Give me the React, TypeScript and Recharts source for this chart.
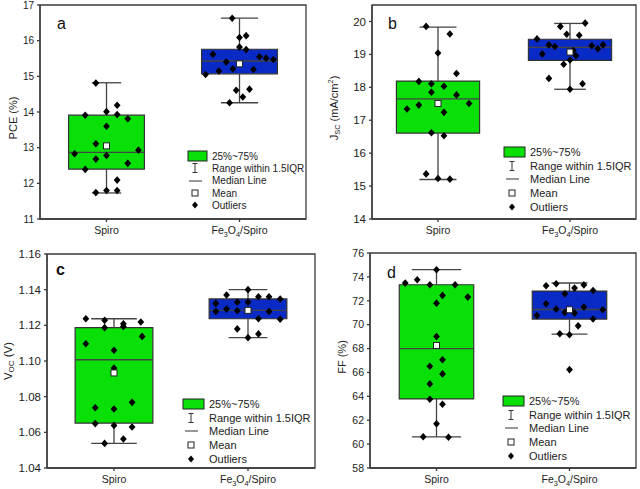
import React from "react";
import {
  ScatterChart,
  Scatter,
  XAxis,
  YAxis,
  ReferenceArea,
  ReferenceLine,
  Legend,
  Customized,
} from "recharts";

const groups = ["Spiro", "Fe3O4/Spiro"];

// PCE (%)
const pceSpiro = [14.81, 13.91, 14.01, 14.19, 13.93, 13.81, 13.6, 13.11, 12.83, 12.68, 12.78, 12.93, 12.56, 12.39, 12.09, 11.8, 11.8, 11.74];
const pceSpiroDx = [-0.08, -0.16, 0, 0.08, 0.08, 0.16, 0, -0.08, -0.24, -0.08, 0, 0.24, 0.16, -0.16, 0.08, 0, 0.08, -0.08];
const pceFe = [16.63, 16.09, 16.14, 15.82, 15.75, 15.62, 15.4, 15.55, 15.51, 15.47, 15.21, 15.15, 15.19, 15.05, 14.61, 14.64, 14.42, 14.26];
const pceFeDx = [-0.055, 0, 0.05, 0, 0.05, -0.2, -0.1, 0.15, 0.2, 0.255, -0.05, -0.155, 0.105, -0.255, -0.025, 0.075, 0.025, -0.075];
const pceSpiroBox = [11.73, 12.4, 12.87, 13.91, 14.82]; // min, q1, median, q3, max
const pceFeBox = [14.26, 15.07, 15.43, 15.76, 16.63];
const pceMeans = [13.05, 15.35];

// Jsc (mA/cm2)
const jscSpiro = [19.85, 19.62, 19.04, 18.42, 18.18, 18.11, 18.03, 17.85, 17.77, 17.34, 17.46, 17.51, 17.24, 16.62, 16.53, 15.37, 15.23, 15.21];
const jscSpiroDx = [-0.09, 0.09, 0, 0.14, -0.145, -0.05, 0.045, -0.05, 0.14, -0.235, -0.145, 0.235, 0.045, -0.05, 0.045, -0.09, 0, 0.09];
const jscFe = [19.85, 19.95, 19.61, 19.58, 19.47, 19.29, 19.24, 19.26, 19.29, 19.17, 19.01, 19.12, 18.96, 18.83, 18.7, 18.27, 18.11, 17.94];
const jscFeDx = [-0.073, 0.115, -0.025, 0.07, -0.25, -0.16, -0.115, 0.165, 0.25, 0.21, -0.21, 0.025, 0.045, 0, -0.048, -0.16, 0.095, 0];
const jscSpiroBox = [15.2, 16.61, 17.65, 18.19, 19.83];
const jscFeBox = [17.94, 18.82, 19.21, 19.46, 19.94];
const jscMeans = [17.51, 19.07];

// Voc (V)
const vocSpiro = [1.1237, 1.1228, 1.1209, 1.1219, 1.1187, 1.1194, 1.1097, 1.1138, 1.106, 1.0961, 1.0738, 1.0731, 1.0768, 1.0649, 1.0639, 1.063, 1.0563, 1.0538];
const vocSpiroDx = [-0.21, -0.07, 0.07, 0.2, -0.07, 0.07, -0.21, 0.21, 0, 0, -0.14, 0, 0.135, -0.14, 0, 0.135, 0.07, -0.07];
const vocFe = [1.14, 1.137, 1.136, 1.136, 1.1348, 1.1323, 1.133, 1.133, 1.1278, 1.1291, 1.1282, 1.1284, 1.1237, 1.1278, 1.1234, 1.118, 1.1152, 1.1131];
const vocFeDx = [0, -0.16, 0.078, 0.157, 0.24, -0.24, -0.08, 0, -0.24, -0.16, -0.08, 0, 0.078, 0.157, 0.24, -0.08, 0.078, 0];
const vocSpiroBox = [1.0538, 1.0652, 1.1007, 1.1187, 1.1237];
const vocFeBox = [1.1131, 1.1237, 1.1284, 1.1348, 1.14];
const vocMeans = [1.0933, 1.1284];

// FF (%)
const ffSpiro = [73.48, 73.76, 74.6, 73.34, 73.34, 72.45, 72.31, 71.8, 69.01, 66.52, 67.06, 65.88, 65.04, 63.76, 63.34, 61.71, 60.62, 60.57];
const ffSpiroDx = [-0.235, -0.145, 0, -0.05, 0.14, 0.045, 0.235, 0, 0, -0.05, 0.045, 0.045, -0.05, -0.05, 0.045, 0, -0.1, 0.09];
const ffFe = [73.26, 73.43, 72.59, 73.06, 73.33, 72.86, 70.77, 71.75, 71.3, 71.02, 70.97, 71.47, 71.25, 70.47, 69.9, 69.24, 69.15, 66.24];
const ffFeDx = [-0.176, -0.1, -0.035, 0.038, 0.108, 0.177, -0.245, -0.176, -0.1, -0.035, 0.038, 0.108, 0.25, 0.177, 0.065, -0.073, 0, 0];
const ffSpiroBox = [60.6, 63.78, 68.0, 73.34, 74.6];
const ffFeBox = [69.2, 70.47, 71.27, 72.81, 73.49];
const ffMeans = [68.26, 71.25];

const legendLabels = ["25%~75%", "Range within 1.5IQR", "Median Line", "Mean", "Outliers"];

const GREEN = "#08e008";
const BLUE = "#0a2ac6";
const AXIS = "#3a3a3a";
const FONT = "'Liberation Sans', Arial, sans-serif";

const pts = (vals: number[], dx: number[], g: number) => vals.map((y, i) => ({ x: g + dx[i], y }));

const Diamond = (p: any) => (
  <polygon
    points={`${p.cx},${p.cy - 3.8} ${p.cx + 3.4},${p.cy} ${p.cx},${p.cy + 3.8} ${p.cx - 3.4},${p.cy}`}
    fill="#000"
  />
);

const MeanSq = (p: any) => (
  <rect x={p.cx - 3} y={p.cy - 3} width={6} height={6} fill="#fff" stroke="#222" strokeWidth={1} />
);

function CatTick({ x, y, payload, fontSize }: any) {
  const name = groups[payload.value - 1];
  if (name === "Fe3O4/Spiro") {
    return (
      <text x={x} y={y} dy="0.71em" textAnchor="middle" fontSize={fontSize} fill="#222" fontFamily={FONT}>
        Fe<tspan dy={2.5} fontSize={fontSize * 0.7}>3</tspan>
        <tspan dy={-2.5}>O</tspan>
        <tspan dy={2.5} fontSize={fontSize * 0.7}>4</tspan>
        <tspan dy={-2.5}>/Spiro</tspan>
      </text>
    );
  }
  return (
    <text x={x} y={y} dy="0.71em" textAnchor="middle" fontSize={fontSize} fill="#222" fontFamily={FONT}>
      {name}
    </text>
  );
}

function LegendBox({ font, iconW, rowH }: any) {
  const icons = [
    <rect x={1} y={1} width={iconW - 3} height={10} fill={GREEN} stroke="#222" strokeWidth={1} />,
    <g stroke="#333" strokeWidth={1}>
      <line x1={iconW / 2 - 3} x2={iconW / 2 - 3} y1={1.5} y2={10.5} />
      <line x1={iconW / 2 - 5.5} x2={iconW / 2 - 0.5} y1={1.5} y2={1.5} />
      <line x1={iconW / 2 - 5.5} x2={iconW / 2 - 0.5} y1={10.5} y2={10.5} />
    </g>,
    <line x1={iconW / 2 - 9} x2={iconW / 2 + 4} y1={6} y2={6} stroke="#333" strokeWidth={1} />,
    <rect x={iconW / 2 - 6} y={3} width={6} height={6} fill="#fff" stroke="#222" strokeWidth={1} />,
    <polygon
      points={`${iconW / 2 - 3},2.4 ${iconW / 2 - 0},6 ${iconW / 2 - 3},9.6 ${iconW / 2 - 6},6`}
      fill="#000"
    />,
  ];
  return (
    <div style={{ fontFamily: FONT, fontSize: font, color: "#222" }}>
      {legendLabels.map((lab, i) => (
        <div key={lab} style={{ display: "flex", alignItems: "center", height: rowH }}>
          <svg width={iconW} height={12} style={{ flex: "none" }}>
            {icons[i]}
          </svg>
          <span style={{ marginLeft: 3, whiteSpace: "nowrap" }}>{lab}</span>
        </div>
      ))}
    </div>
  );
}

function BoxGroup(g: number, box: number[], color: string, hw: number, cw: number) {
  const [mn, q1, med, q3, mx] = box;
  const ln = { stroke: "#444", strokeWidth: 1.3, ifOverflow: "visible" as const };
  return [
    <ReferenceLine key={`wu${g}`} segment={[{ x: g, y: q3 }, { x: g, y: mx }]} {...ln} />,
    <ReferenceLine key={`wl${g}`} segment={[{ x: g, y: mn }, { x: g, y: q1 }]} {...ln} />,
    <ReferenceLine key={`cu${g}`} segment={[{ x: g - cw, y: mx }, { x: g + cw, y: mx }]} {...ln} />,
    <ReferenceLine key={`cl${g}`} segment={[{ x: g - cw, y: mn }, { x: g + cw, y: mn }]} {...ln} />,
    <ReferenceArea
      key={`bx${g}`}
      x1={g - hw}
      x2={g + hw}
      y1={q1}
      y2={q3}
      fill={color}
      fillOpacity={1}
      stroke="#333"
      strokeWidth={1.2}
      ifOverflow="visible"
    />,
    <ReferenceLine key={`md${g}`} segment={[{ x: g - hw, y: med }, { x: g + hw, y: med }]} {...ln} />,
  ];
}

function Panel(c: any) {
  const W = 320;
  const H = 245;
  return (
    <div style={{ position: "absolute", left: c.left, top: c.top, width: W, height: H }}>
      <ScatterChart
        width={W}
        height={H}
        margin={{ top: c.mTop, right: c.mRight, bottom: 0, left: 0 }}
      >
        <XAxis
          type="number"
          dataKey="x"
          domain={[0.5, 2.5]}
          ticks={[1, 2]}
          allowDataOverflow
          height={H - c.plotBottom}
          stroke={AXIS}
          strokeWidth={1.3}
          tickSize={3}
          tickMargin={5}
          tick={<CatTick fontSize={10.5} />}
        />
        <YAxis
          type="number"
          dataKey="y"
          domain={c.domain}
          ticks={c.ticks}
          interval={0}
          allowDataOverflow
          width={c.yWidth}
          stroke={AXIS}
          strokeWidth={1.3}
          tickSize={3}
          tickMargin={3}
          tickFormatter={c.fmt}
          tick={{ fontSize: c.tickFont, fill: "#222", fontFamily: FONT }}
          label={() => (
            <text
              x={c.titleX}
              y={c.titleY}
              transform={`rotate(-90 ${c.titleX} ${c.titleY})`}
              textAnchor="middle"
              dominantBaseline="central"
              fontSize={c.titleFont}
              fill="#222"
              fontFamily={FONT}
            >
              {c.title}
            </text>
          )}
        />
        <ReferenceArea
          x1={0.5}
          x2={2.5}
          y1={c.domain[0]}
          y2={c.domain[1]}
          fill="none"
          stroke={AXIS}
          strokeWidth={1.3}
          ifOverflow="visible"
        />
        {BoxGroup(1, c.box1, GREEN, c.hw, c.cw[0])}
        {BoxGroup(2, c.box2, BLUE, c.hw, c.cw[1])}
        <Scatter data={pts(c.v1, c.d1, 1)} shape={Diamond} isAnimationActive={false} />
        <Scatter data={pts(c.v2, c.d2, 2)} shape={Diamond} isAnimationActive={false} />
        <Scatter
          data={c.means.map((m: number, i: number) => ({ x: i + 1, y: m }))}
          shape={MeanSq}
          isAnimationActive={false}
        />
        <Customized
          component={() => (
            <text
              x={c.letterX}
              y={c.letterY}
              fontSize={16}
              fontWeight={c.letterBold ? "bold" : "normal"}
              fill="#111"
              fontFamily={FONT}
            >
              {c.letter}
            </text>
          )}
        />
        <Legend
          layout="vertical"
          align="center"
          verticalAlign="middle"
          wrapperStyle={{ left: c.lgX, top: c.lgY, width: 140 }}
          content={() => <LegendBox font={c.lgFont} iconW={c.lgIconW} rowH={c.lgRowH} />}
        />
      </ScatterChart>
    </div>
  );
}

const sub = (s: string, size: number) => (
  <tspan dy={2.5} fontSize={size}>{s}</tspan>
);

export default function App() {
  return (
    <div style={{ position: "absolute", left: 0, top: 0, width: 640, height: 489, background: "#fff" }}>
      <Panel
        left={0}
        top={0}
        mTop={5}
        mRight={14}
        yWidth={40}
        plotBottom={219}
        domain={[11, 17]}
        ticks={[11, 12, 13, 14, 15, 16, 17]}
        fmt={(v: number) => `${v}`}
        tickFont={10}
        title="PCE (%)"
        titleX={13}
        titleY={118}
        titleFont={11}
        letter="a"
        letterX={57}
        letterY={29}
        box1={pceSpiroBox}
        box2={pceFeBox}
        v1={pceSpiro}
        d1={pceSpiroDx}
        v2={pceFe}
        d2={pceFeDx}
        means={pceMeans}
        hw={0.285}
        cw={[0.11, 0.14]}
        lgX={187}
        lgY={150}
        lgFont={10}
        lgIconW={22}
        lgRowH={12.3}
      />
      <Panel
        left={320}
        top={0}
        mTop={5}
        mRight={4}
        yWidth={52}
        plotBottom={219}
        domain={[14, 20.5]}
        ticks={[14, 15, 16, 17, 18, 19, 20]}
        fmt={(v: number) => `${v}`}
        tickFont={11.5}
        title={
          <>
            J{sub("SC", 7.5)}
            <tspan dy={-2.5}> (mA/cm</tspan>
            <tspan dy={-4} fontSize={7.5}>2</tspan>
            <tspan dy={4}>)</tspan>
          </>
        }
        titleX={14}
        titleY={108}
        titleFont={11}
        letter="b"
        letterX={68}
        letterY={29}
        box1={jscSpiroBox}
        box2={jscFeBox}
        v1={jscSpiro}
        d1={jscSpiroDx}
        v2={jscFe}
        d2={jscFeDx}
        means={jscMeans}
        hw={0.315}
        cw={[0.14, 0.12]}
        lgX={183}
        lgY={145}
        lgFont={11}
        lgIconW={24}
        lgRowH={13.7}
      />
      <Panel
        left={0}
        top={244}
        mTop={10}
        mRight={5}
        yWidth={47}
        plotBottom={224}
        domain={[1.04, 1.16]}
        ticks={[1.04, 1.06, 1.08, 1.1, 1.12, 1.14, 1.16]}
        fmt={(v: number) => v.toFixed(2)}
        tickFont={11.5}
        title={
          <>
            V{sub("OC", 8)}
            <tspan dy={-2.5}> (V)</tspan>
          </>
        }
        titleX={8}
        titleY={117}
        titleFont={11.5}
        letter="c"
        letterBold
        letterX={56}
        letterY={31}
        box1={vocSpiroBox}
        box2={vocFeBox}
        v1={vocSpiro}
        d1={vocSpiroDx}
        v2={vocFe}
        d2={vocFeDx}
        means={vocMeans}
        hw={0.29}
        cw={[0.17, 0.144]}
        lgX={182}
        lgY={153}
        lgFont={11}
        lgIconW={24}
        lgRowH={13.7}
      />
      <Panel
        left={320}
        top={244}
        mTop={9}
        mRight={4}
        yWidth={50}
        plotBottom={224}
        domain={[58, 76]}
        ticks={[58, 60, 62, 64, 66, 68, 70, 72, 74, 76]}
        fmt={(v: number) => `${v}`}
        tickFont={10.5}
        title="FF (%)"
        titleX={22}
        titleY={113}
        titleFont={11}
        letter="d"
        letterX={67}
        letterY={34}
        box1={ffSpiroBox}
        box2={ffFeBox}
        v1={ffSpiro}
        d1={ffSpiroDx}
        v2={ffFe}
        d2={ffFeDx}
        means={ffMeans}
        hw={0.28}
        cw={[0.185, 0.135]}
        lgX={182}
        lgY={150}
        lgFont={11}
        lgIconW={24}
        lgRowH={13.8}
      />
    </div>
  );
}
